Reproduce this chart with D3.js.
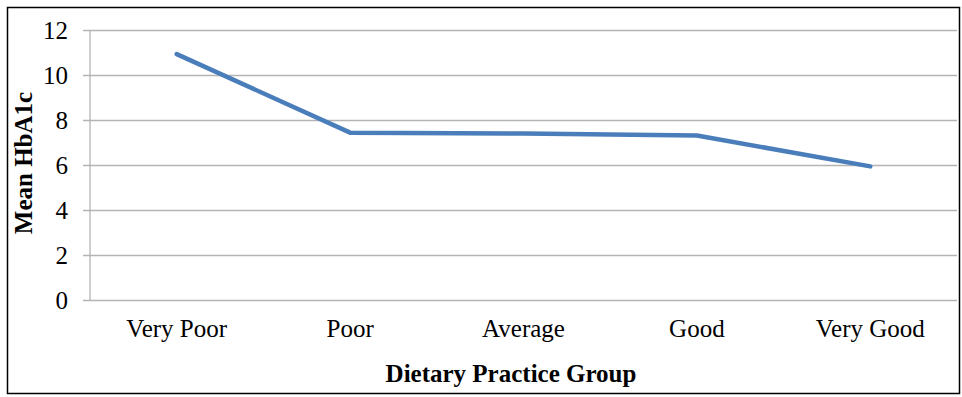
<!DOCTYPE html>
<html>
<head>
<meta charset="utf-8">
<script src="https://cdn.jsdelivr.net/npm/d3@7"></script>
<style>
  body { margin: 0; background: #fff; }
  text { font-family: "Liberation Serif", "Times New Roman", serif; fill: #000; }
</style>
</head>
<body>
<div id="chart"></div>
<script>
// Data
const groups = ["Very Poor", "Poor", "Average", "Good", "Very Good"];
const meanHbA1c = [10.95, 7.46, 7.42, 7.33, 5.96];
const yTicks = [0, 2, 4, 6, 8, 10, 12];

const W = 962, H = 397;
const margin = { top: 30.5, right: 5, bottom: 96.5, left: 90 },
    width = W - margin.left - margin.right,
    height = H - margin.top - margin.bottom;

const fontSize = "25px";

const root = d3.select("#chart")
    .append("svg")
    .attr("width", W)
    .attr("height", H);

// outer frame
root.append("rect")
    .attr("x", 7.5).attr("y", 7.5)
    .attr("width", W - 10).attr("height", H - 11)
    .attr("fill", "none")
    .attr("stroke", "#000")
    .attr("stroke-width", 1.5);

const svg = root.append("g")
    .attr("transform", `translate(${margin.left},${margin.top})`);

const x = d3.scaleBand()
    .domain(groups)
    .range([0, width]);

const y = d3.scaleLinear()
    .domain([0, 12])
    .range([height, 0]);

// gridlines
svg.append("g")
    .selectAll("line")
    .data(yTicks)
    .join("line")
    .attr("x1", -7)
    .attr("x2", width)
    .attr("y1", d => y(d))
    .attr("y2", d => y(d))
    .attr("stroke", "#b4b4b4")
    .attr("stroke-width", 1.3);

// y axis line
svg.append("line")
    .attr("x1", 0).attr("x2", 0)
    .attr("y1", 0).attr("y2", height)
    .attr("stroke", "#b4b4b4")
    .attr("stroke-width", 1.3);

// y axis labels
const yAxis = svg.append("g")
    .attr("transform", "translate(-8,0)")
    .call(d3.axisLeft(y).tickValues(yTicks).tickSize(0).tickPadding(14));
yAxis.select(".domain").remove();
yAxis.selectAll("text")
    .style("font-size", fontSize)
    .style("font-family", "'Liberation Serif', serif")
    .attr("dy", "0.33em");

// x axis labels
const xAxis = svg.append("g")
    .attr("transform", `translate(0,${height})`)
    .call(d3.axisBottom(x).tickSize(0).tickPadding(19));
xAxis.select(".domain").remove();
xAxis.selectAll("text")
    .style("font-size", fontSize)
    .style("font-family", "'Liberation Serif', serif");

// the line
svg.append("path")
    .datum(meanHbA1c)
    .attr("fill", "none")
    .attr("stroke", "#4a7ebb")
    .attr("stroke-width", 4.5)
    .attr("stroke-linecap", "round")
    .attr("stroke-linejoin", "round")
    .attr("d", d3.line()
        .x((d, i) => x(groups[i]) + x.bandwidth() / 2)
        .y(d => y(d)));

// axis titles
root.append("text")
    .attr("x", 511)
    .attr("y", 382)
    .attr("text-anchor", "middle")
    .style("font-size", fontSize)
    .style("font-weight", "bold")
    .text("Dietary Practice Group");

root.append("text")
    .attr("transform", "translate(32,163) rotate(-90)")
    .attr("text-anchor", "middle")
    .style("font-size", fontSize)
    .style("font-weight", "bold")
    .text("Mean HbA1c");
</script>
</body>
</html>
